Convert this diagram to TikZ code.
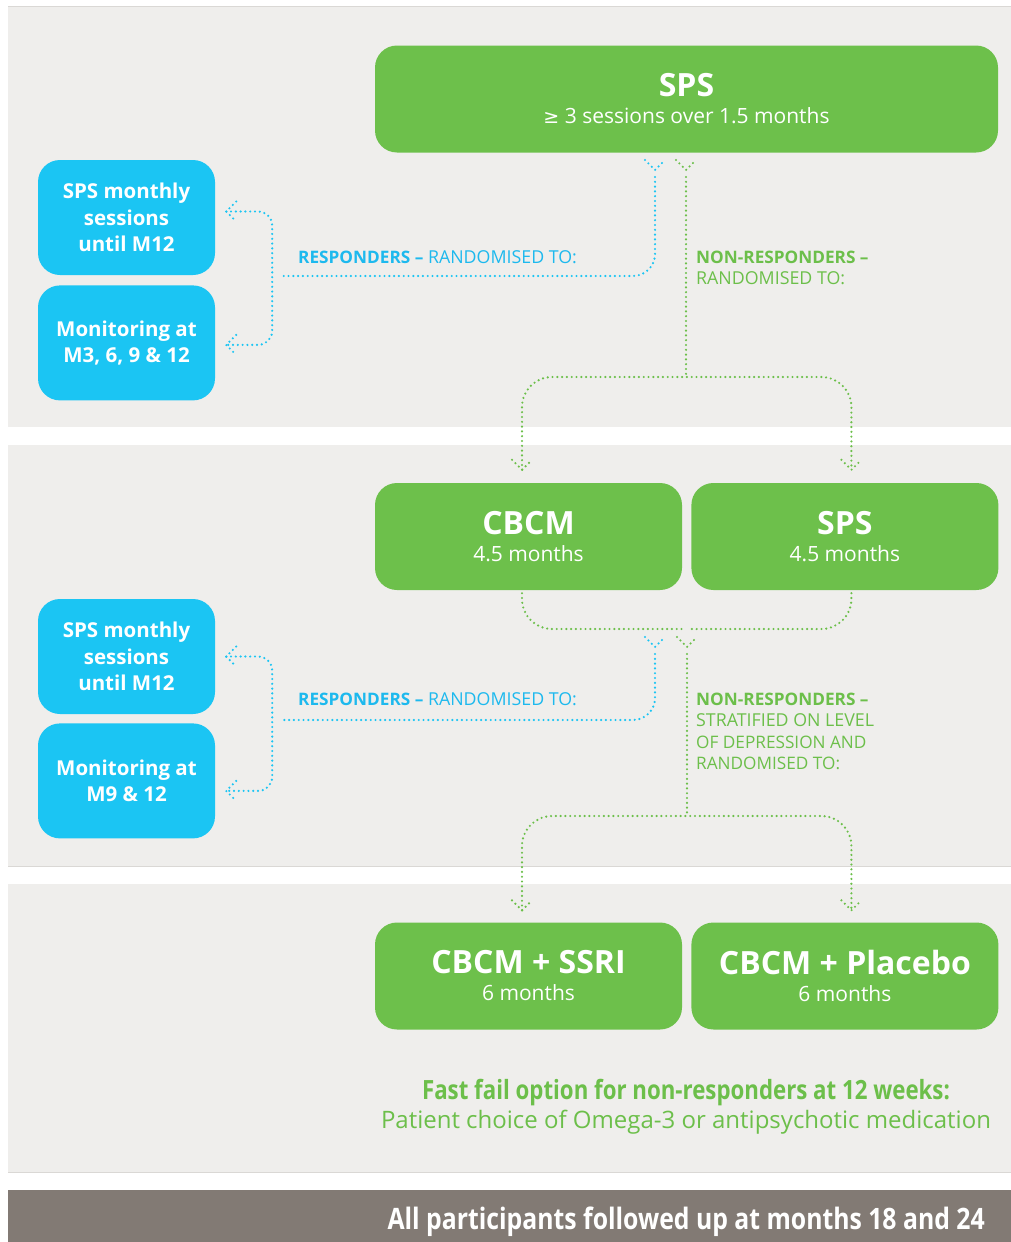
\documentclass[tikz,border=0pt]{standalone}
\usepackage{fontspec}
\setmainfont{Open Sans}
\newfontfamily\condfont[FakeStretch=0.84]{Open Sans}
\newfontfamily\symfont{DejaVu Sans}
\usetikzlibrary{positioning}

\definecolor{spsgreen}{HTML}{6DC04B}
\definecolor{spsblue}{HTML}{1BC5F3}
\definecolor{panelgray}{HTML}{EFEEEC}
\definecolor{panelline}{HTML}{DAD8D5}
\definecolor{footgray}{HTML}{827A74}
\definecolor{labelblue}{HTML}{1DB9EE}
\definecolor{labelgreen}{HTML}{6CBF4A}

\newcommand{\boxtitle}{\fontsize{32}{27}\selectfont\bfseries}
\newcommand{\plainlabel}{\fontsize{17.8}{21.3}\selectfont\mdseries}

\tikzset{
    dotline/.style={line width=2.4pt, line cap=round, dash pattern=on 0pt off 4.8pt},
    blueline/.style={dotline, draw=spsblue},
    greenline/.style={dotline, draw=labelgreen},
    downtip/.pic={\draw[pic actions] (-10,-10) -- (0,0) -- (10,-10);},
    lefttip/.pic={\draw[pic actions] (10,-10) -- (0,0) -- (10,10);}
}

\begin{document}
\begin{tikzpicture}[
        x=1pt, y=-1pt,
        greenbox/.style={fill=spsgreen, rounded corners=22pt, text=white,
            align=center, inner sep=0pt, minimum height=107pt,
            font=\fontsize{21}{27}\selectfont},
        bluebox/.style={fill=spsblue, rounded corners=22pt, text=white,
            align=center, inner sep=0pt, minimum width=177pt, minimum height=115pt,
            font=\fontsize{20.5}{26.5}\selectfont\bfseries},
        resplabel/.style={text=labelblue, inner sep=0pt, anchor=base west,
            font=\fontsize{17.2}{21.3}\selectfont},
        nonlabel/.style={text=labelgreen, inner sep=0pt, anchor=north west, align=left,
            font=\fontsize{17.2}{21.3}\selectfont}]

    % PANELS
    \useasboundingbox (0,0) rectangle (1011,1242);
    \fill[white] (0,0) rectangle (1011,1242);
    \fill[panelgray] (8,7) rectangle (1011,427);
    \fill[panelgray] (8,445) rectangle (1011,866);
    \fill[panelgray] (8,884) rectangle (1011,1172);
    \draw[panelline, line width=1.2pt] (8,6.5) -- (1011,6.5);
    \draw[panelline, line width=1.2pt] (8,866.5) -- (1011,866.5);
    \draw[panelline, line width=1.2pt] (8,1172.5) -- (1011,1172.5);
    \fill[footgray] (8,1190) rectangle (1011,1242);

    % NODES
    % stage 1
    \node[greenbox, minimum width=623pt] (spsA) at (686.5,99)
        {{\boxtitle SPS}\\{\symfont\fontsize{19}{27}\selectfont ≥} 3 sessions over 1.5 months};
    \node[bluebox] (monthlyA) at (126.5,217.5) {SPS monthly\\sessions\\until M12};
    \node[bluebox, below=10pt of monthlyA] (monitorA) {Monitoring at\\M3, 6, 9 \& 12};
    % stage 2
    \node[greenbox, minimum width=307pt] (cbcm) at (528.5,536.5)
        {{\boxtitle CBCM}\\4.5 months};
    \node[greenbox, minimum width=307pt, right=9pt of cbcm] (spsB)
        {{\boxtitle SPS}\\4.5 months};
    \node[bluebox] (monthlyB) at (126.5,656.5) {SPS monthly\\sessions\\until M12};
    \node[bluebox, below=9pt of monthlyB] (monitorB) {Monitoring at\\M9 \& 12};
    % stage 3
    \node[greenbox, minimum width=307pt] (ssri) at (528.5,976)
        {{\boxtitle CBCM + SSRI}\\6 months};
    \node[greenbox, minimum width=307pt, right=9pt of ssri] (placebo)
        {{\boxtitle CBCM + Placebo}\\6 months};

    % LABELS
    \node[resplabel] (respA) at (298,263) {\bfseries RESPONDERS –\plainlabel{} RANDOMISED TO:};
    \node[nonlabel] (nonA) at (696,251) {\bfseries NON-RESPONDERS –\\\plainlabel RANDOMISED TO:};
    \node[resplabel] (respB) at (298,705) {\bfseries RESPONDERS –\plainlabel{} RANDOMISED TO:};
    \node[nonlabel] (nonB) at (696,693) {\bfseries NON-RESPONDERS –\\\plainlabel STRATIFIED ON LEVEL\\OF DEPRESSION AND\\RANDOMISED TO:};
    \node[text=labelgreen, align=center, inner sep=0pt,
        font=\fontsize{24}{29}\selectfont] (fastfail) at (686,1107)
        {\condfont\fontsize{26.5}{29}\selectfont\bfseries Fast fail option for non-responders at 12 weeks:\\
         \mdseries Patient choice of Omega-3 or antipsychotic medication};
    \node[text=white, inner sep=0pt, anchor=base east,
        font=\condfont\fontsize{29.5}{30}\selectfont\bfseries] (followup) at (985,1229)
        {All participants followed up at months 18 and 24};

    % COORDINATES
    \coordinate (respTipA) at (655,170);
    \coordinate (nonTipA) at (686,170);
    \coordinate (respTipB) at (655,647);
    \coordinate (nonTipB) at (687,647);
    \coordinate (respEndA) at (282,276);
    \coordinate (respEndB) at (282,720);
    \coordinate (splitA) at (686,377);
    \coordinate (splitB) at (687,816);
    \coordinate (mergeL) at (682,629);
    \coordinate (mergeR) at (691,629);

    % ARROWS
    % stage 1 responders
    \pic[blueline] at (respTipA) {downtip};
    \draw[blueline, rounded corners=22pt] ([yshift=-7pt]respTipA) |- (respEndA);
    \draw[blueline, rounded corners=14pt] ([xshift=11pt,yshift=6pt]monthlyA.east)
        -- ++(46,0) |- ([xshift=11pt,yshift=-2pt]monitorA.east);
    \pic[blueline] at ([xshift=11pt,yshift=6pt]monthlyA.east) {lefttip};
    \pic[blueline] at ([xshift=11pt,yshift=-2pt]monitorA.east) {lefttip};
    % stage 1 non-responders
    \pic[greenline] at (nonTipA) {downtip};
    \draw[greenline] ([yshift=-7pt]nonTipA) -- (splitA);
    \draw[greenline, rounded corners=30pt] ([xshift=-6.5pt,yshift=13pt]cbcm.north)
        |- (splitA) -| ([xshift=6.5pt,yshift=13pt]spsB.north);
    \pic[greenline] at ([xshift=-6.5pt,yshift=13pt]cbcm.north) {downtip};
    \pic[greenline] at ([xshift=6.5pt,yshift=13pt]spsB.north) {downtip};
    % stage 2 merge
    \draw[greenline, rounded corners=30pt] ([xshift=-6.5pt,yshift=-3pt]cbcm.south) |- (mergeL);
    \draw[greenline, rounded corners=30pt] ([xshift=6.5pt,yshift=-3pt]spsB.south) |- (mergeR);
    % stage 2 responders
    \pic[blueline] at (respTipB) {downtip};
    \draw[blueline, rounded corners=22pt] ([yshift=-7pt]respTipB) |- (respEndB);
    \draw[blueline, rounded corners=14pt] ([xshift=11pt]monthlyB.east)
        -- ++(46,0) |- ([xshift=11pt,yshift=-10pt]monitorB.east);
    \pic[blueline] at ([xshift=11pt]monthlyB.east) {lefttip};
    \pic[blueline] at ([xshift=11pt,yshift=-10pt]monitorB.east) {lefttip};
    % stage 2 non-responders
    \pic[greenline] at (nonTipB) {downtip};
    \draw[greenline] ([yshift=-7pt]nonTipB) -- (splitB);
    \draw[greenline, rounded corners=30pt] ([xshift=-6.5pt,yshift=12pt]ssri.north)
        |- (splitB) -| ([xshift=6.5pt,yshift=12pt]placebo.north);
    \pic[greenline] at ([xshift=-6.5pt,yshift=12pt]ssri.north) {downtip};
    \pic[greenline] at ([xshift=6.5pt,yshift=12pt]placebo.north) {downtip};
\end{tikzpicture}
\end{document}
